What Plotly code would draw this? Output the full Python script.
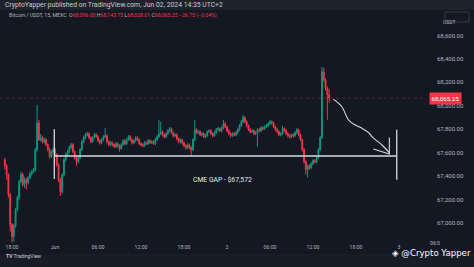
import plotly.graph_objects as go
import pandas as pd

# ---------------- data (BTC/USDT 15m, MEXC) ----------------
start_time = "2024-05-31 17:00"
first_open = 67540
close = [67489, 67413, 67243, 66987, 66885, 66979, 67115, 67217, 67353, 67413,
         67328, 67370, 67345, 67387, 67421, 67438, 67455, 67626, 67855, 67711,
         67728, 67694, 67711, 67668, 67626, 67566, 67609, 67626, 67583, 67498,
         67370, 67268, 67413, 67540, 67583, 67609, 67643, 67668, 67609, 67557,
         67523, 67557, 67626, 67694, 67728, 67753, 67762, 67728, 67694, 67728,
         67753, 67736, 67702, 67685, 67711, 67736, 67745, 67694, 67668, 67685,
         67668, 67651, 67677, 67660, 67634, 67668, 67702, 67677, 67711, 67736,
         67711, 67685, 67702, 67728, 67711, 67677, 67668, 67660, 67685, 67677,
         67702, 67685, 67694, 67677, 67711, 67736, 67762, 67779, 67753, 67736,
         67762, 67787, 67804, 67770, 67745, 67753, 67719, 67694, 67711, 67685,
         67660, 67643, 67668, 67643, 67626, 67711, 67796, 67770, 67779, 67753,
         67762, 67736, 67745, 67779, 67787, 67762, 67745, 67770, 67796, 67804,
         67787, 67813, 67847, 67821, 67787, 67762, 67745, 67762, 67753, 67770,
         67796, 67830, 67864, 67898, 67864, 67830, 67796, 67779, 67787, 67762,
         67770, 67796, 67787, 67813, 67804, 67821, 67830, 67847, 67864, 67855,
         67821, 67796, 67779, 67753, 67762, 67804, 67787, 67762, 67745, 67736,
         67753, 67745, 67770, 67796, 67753, 67711, 67626, 67523, 67455, 67489,
         67472, 67506, 67532, 67523, 67557, 67626, 67728, 68289, 68221, 68153,
         68096, 68065.25]
high = [67557, 67500, 67425, 67255, 67000, 66995, 67130, 67235, 67370, 67440,
        67430, 67390, 67385, 67400, 67435, 67455, 67470, 67640, 68009, 67880,
        67760, 67745, 67730, 67725, 67680, 67640, 67620, 67645, 67640, 67595,
        67510, 67385, 67425, 67555, 67600, 67625, 67660, 67685, 67680, 67620,
        67570, 67570, 67640, 67710, 67745, 67770, 67779, 67775, 67740, 67740,
        67770, 67765, 67750, 67715, 67725, 67750, 67813, 67755, 67705, 67700,
        67695, 67680, 67690, 67690, 67670, 67680, 67715, 67715, 67725, 67750,
        67750, 67720, 67715, 67740, 67740, 67720, 67690, 67680, 67700, 67695,
        67715, 67715, 67705, 67705, 67725, 67750, 67881, 67864, 67790, 67765,
        67775, 67800, 67820, 67815, 67780, 67765, 67765, 67730, 67725, 67720,
        67695, 67670, 67680, 67680, 67655, 67725, 67881, 67810, 67795, 67790,
        67775, 67775, 67760, 67790, 67800, 67800, 67775, 67785, 67810, 67820,
        67815, 67825, 67881, 67860, 67830, 67800, 67775, 67775, 67775, 67785,
        67810, 67845, 67880, 67923, 67910, 67875, 67840, 67810, 67800, 67800,
        67785, 67810, 67810, 67825, 67825, 67835, 67845, 67860, 67881, 67875,
        67865, 67830, 67810, 67790, 67775, 67830, 67815, 67800, 67775, 67760,
        67765, 67765, 67785, 67813, 67805, 67765, 67720, 67640, 67535, 67500,
        67500, 67520, 67545, 67545, 67570, 67640, 67745, 68332, 68323, 68235,
        68165, 68143.75]
low = [67455, 67370, 67217, 66928, 66834, 66843, 66960, 67100, 67200, 67340,
       67310, 67300, 67285, 67330, 67375, 67405, 67425, 67440, 67610, 67700,
       67695, 67680, 67680, 67655, 67610, 67550, 67555, 67595, 67570, 67480,
       67350, 67234, 67255, 67400, 67525, 67570, 67595, 67630, 67595, 67540,
       67489, 67510, 67545, 67615, 67680, 67715, 67740, 67715, 67680, 67685,
       67720, 67725, 67690, 67670, 67675, 67700, 67725, 67680, 67655, 67655,
       67655, 67640, 67640, 67645, 67609, 67625, 67660, 67665, 67665, 67700,
       67700, 67670, 67675, 67690, 67700, 67665, 67655, 67645, 67650, 67665,
       67665, 67675, 67675, 67665, 67665, 67700, 67725, 67750, 67740, 67720,
       67725, 67750, 67775, 67760, 67730, 67735, 67705, 67680, 67680, 67670,
       67645, 67626, 67630, 67630, 67566, 67615, 67700, 67760, 67760, 67740,
       67740, 67725, 67725, 67735, 67770, 67750, 67730, 67735, 67760, 67785,
       67775, 67775, 67800, 67810, 67775, 67750, 67730, 67735, 67740, 67740,
       67760, 67785, 67820, 67850, 67850, 67815, 67785, 67765, 67770, 67750,
       67750, 67651, 67775, 67775, 67790, 67795, 67810, 67820, 67835, 67840,
       67810, 67785, 67765, 67740, 67740, 67750, 67775, 67750, 67730, 67720,
       67725, 67730, 67735, 67760, 67740, 67700, 67610, 67506, 67413, 67387,
       67455, 67460, 67495, 67510, 67510, 67545, 67615, 67715, 68200, 68130,
       67881, 68028.01]
# each 15m candle opens at the previous close
open_ = [first_open] + close[:-1]
times = pd.date_range(start_time, periods=len(close), freq="15min")

price_ticks = [67000, 67200, 67400, 67600, 67800, 68000, 68200, 68400, 68600]
time_ticks = ["2024-05-31 18:00", "2024-06-01 00:00", "2024-06-01 06:00",
              "2024-06-01 12:00", "2024-06-01 18:00", "2024-06-02 00:00",
              "2024-06-02 06:00", "2024-06-02 12:00", "2024-06-02 18:00",
              "2024-06-03 00:00"]
time_labels = ["18:00", "Jun", "06:00", "12:00", "18:00", "2",
               "06:00", "12:00", "18:00", "3"]

last_price = 68065.25
cme_gap = 67572

# hand drawings (time, price)
curve_t = ["2024-06-02 14:50", "2024-06-02 16:00", "2024-06-02 16:56",
           "2024-06-02 17:35", "2024-06-02 18:47", "2024-06-02 19:43",
           "2024-06-02 20:22", "2024-06-02 21:35", "2024-06-02 22:39"]
curve_p = [68057, 67994, 67881, 67847, 67810, 67773, 67728, 67668, 67600]
arrow_t = ["2024-06-02 20:25", "2024-06-02 22:39", "2024-06-02 22:39"]
arrow_p = [67632, 67589, 67730]
gap_left_t = "2024-05-31 23:54"
gap_right_t = "2024-06-02 23:41"
gap_span_p = [67375, 67800]

# ---------------- style ----------------
BG = "#141823"
BAR = "#1e222d"
UP = "#089981"
DOWN = "#f23645"
TXT = "#b2b5be"
DRAW = "#d8dae0"
FONT = "Roboto"

PW = 424.0   # plot width px
PH = 233.0   # plot height px
def px(x):
    return x / PW
def py(y):
    return (243.0 - y) / PH

fig = go.Figure()
fig.add_trace(go.Candlestick(
    x=times, open=open_, high=high, low=low, close=close,
    increasing=dict(line=dict(color=UP, width=1), fillcolor=UP),
    decreasing=dict(line=dict(color=DOWN, width=1), fillcolor=DOWN),
    whiskerwidth=0, showlegend=False, hoverinfo="skip"))

fig.add_trace(go.Scatter(x=curve_t, y=curve_p, mode="lines",
                         line=dict(color=DRAW, width=1.1, shape="spline"),
                         showlegend=False, hoverinfo="skip"))
fig.add_trace(go.Scatter(x=arrow_t, y=arrow_p, mode="lines",
                         line=dict(color=DRAW, width=1.1),
                         showlegend=False, hoverinfo="skip"))

shapes = [
    # header strip
    dict(type="rect", xref="paper", yref="paper", x0=0, x1=px(474), y0=1.0,
         y1=py(0), fillcolor=BAR, line=dict(width=0), layer="below"),
    # bottom strip
    dict(type="rect", xref="paper", yref="paper", x0=0, x1=px(474), y0=py(254),
         y1=py(267), fillcolor="#181c27", line=dict(width=0), layer="below"),
    # current price line
    dict(type="line", xref="paper", yref="y", x0=0, x1=1, y0=last_price,
         y1=last_price, line=dict(color="rgba(242,54,69,0.28)", width=1, dash="dot")),
    # CME gap drawings
    dict(type="line", xref="x", yref="y", x0=gap_left_t, x1=gap_right_t,
         y0=cme_gap, y1=cme_gap, line=dict(color=DRAW, width=1.3)),
    dict(type="line", xref="x", yref="y", x0=gap_left_t, x1=gap_left_t,
         y0=gap_span_p[0], y1=gap_span_p[1], line=dict(color=DRAW, width=1.3)),
    dict(type="line", xref="x", yref="y", x0=gap_right_t, x1=gap_right_t,
         y0=gap_span_p[0] - 5, y1=gap_span_p[1] - 5, line=dict(color=DRAW, width=1.3)),
    # USDT box
    dict(type="rect", xref="paper", yref="paper", x0=px(445), x1=px(469),
         y0=py(22), y1=py(12), line=dict(color="#363a45", width=1),
         fillcolor=BG),
]

annotations = [
    dict(text="CryptoYapper published on TradingView.com, Jun 02, 2024 14:35 UTC+2",
         xref="paper", yref="paper", x=px(3), y=py(4.5), xanchor="left",
         yanchor="middle", showarrow=False,
         font=dict(family=FONT, size=6.8, color="#c8cad0")),
    dict(text=("Bitcoin / USDT, 15, MEXC  O<span style='color:%s'>68,096.00</span> "
               "H<span style='color:%s'>68,143.75</span> "
               "L<span style='color:%s'>68,028.01</span> "
               "C<span style='color:%s'>68,065.25</span> "
               "<span style='color:%s'>−26.75 (−0.04%%)</span>") % ((DOWN,) * 5),
         xref="paper", yref="paper", x=px(7), y=py(16), xanchor="left",
         yanchor="middle", showarrow=False,
         font=dict(family=FONT, size=5.2, color=TXT)),
    dict(text="CME GAP - $67,572", xref="x", yref="y",
         x="2024-06-01 23:20", y=67370, showarrow=False,
         font=dict(family=FONT, size=6.8, color="#e6e7ea")),
    dict(text="68,065.25", xref="paper", yref="y", x=px(429), y=last_price,
         xanchor="left", yanchor="middle", showarrow=False, bgcolor=DOWN,
         borderpad=1.5, font=dict(family=FONT, size=6.2, color="#ffffff")),
    dict(text="USDT", xref="paper", yref="paper", x=px(457), y=py(17),
         showarrow=False, font=dict(family=FONT, size=5, color=TXT)),
    dict(text="06:0", xref="paper", yref="paper", x=px(442), y=py(248.5),
         showarrow=False, font=dict(family=FONT, size=5.2, color=TXT)),
    dict(text="<b>TV</b> TradingView", xref="paper", yref="paper", x=px(4),
         y=py(260.5), xanchor="left", showarrow=False,
         font=dict(family=FONT, size=5, color="#c8cad0")),
    dict(text="◈ @Crypto Yapper", xref="paper", yref="paper", x=px(473),
         y=py(259.5), xanchor="right", showarrow=False,
         font=dict(family="DejaVu Sans", size=8.6, color="#ffffff")),
]

fig.update_layout(
    width=474, height=267,
    margin=dict(l=0, r=50, t=10, b=24),
    paper_bgcolor=BG, plot_bgcolor=BG,
    shapes=shapes, annotations=annotations,
    xaxis=dict(range=["2024-05-31 16:19:30", "2024-06-03 03:29:15"],
               tickvals=time_ticks, ticktext=time_labels,
               showgrid=False, zeroline=False, showline=False, ticks="",
               tickfont=dict(family=FONT, size=5.2, color=TXT),
               rangeslider=dict(visible=False), fixedrange=True),
    yaxis=dict(side="right", range=[66830, 68817],
               tickvals=price_ticks,
               ticktext=[f"{v:,.2f}" for v in price_ticks],
               showgrid=False, zeroline=False, showline=False, ticks="",
               ticklabelstandoff=12,
               tickfont=dict(family=FONT, size=6.0, color=TXT)),
)

fig.write_html("out.html")
